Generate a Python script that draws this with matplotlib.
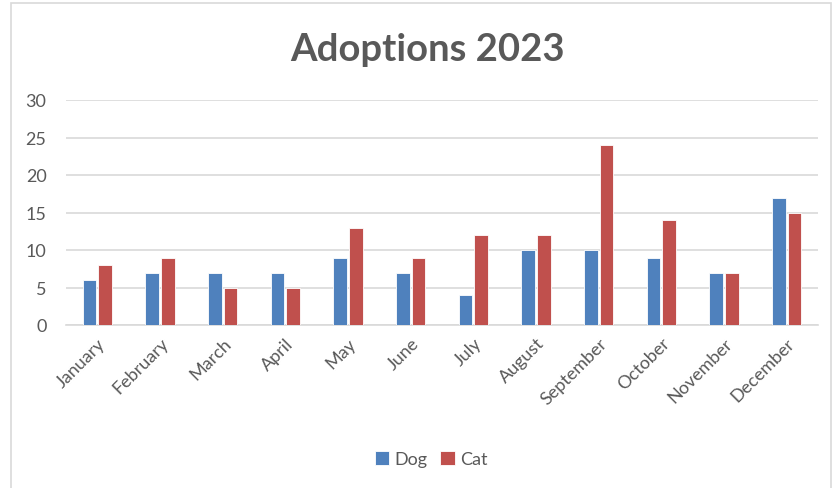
import matplotlib
matplotlib.use("Agg")
import matplotlib.pyplot as plt
import numpy as np
from matplotlib.patches import Rectangle

months = ["January", "February", "March", "April", "May", "June", "July",
          "August", "September", "October", "November", "December"]
dog = [6, 7, 7, 7, 9, 7, 4, 10, 10, 9, 7, 17]
cat = [8, 9, 5, 5, 13, 9, 12, 12, 24, 14, 7, 15]
yticks = [0, 5, 10, 15, 20, 25, 30]

plt.rcParams['font.family'] = ['Lato', 'DejaVu Sans']
text_color = "#595959"

fig = plt.figure(figsize=(8.35, 4.89), dpi=100)
fig.patches.append(Rectangle((11/835, -0.01), (831-11)/835, 1 - 4/489 + 0.01,
                             transform=fig.transFigure, fill=False,
                             edgecolor="#D9D9D9", linewidth=1.2))
ax = fig.add_axes([66/835, 1 - 326/489, (818-66)/835, (326-101)/489])

x = np.arange(len(months))
w = 0.22
ax.bar(x - 0.125, dog, width=w, color="#4F81BD", edgecolor="white", linewidth=0.6, label="Dog", zorder=3)
ax.bar(x + 0.125, cat, width=w, color="#C0504D", edgecolor="white", linewidth=0.6, label="Cat", zorder=3)

ax.set_xlim(-0.5, len(months) - 0.5)
ax.set_ylim(0, 30)
ax.set_yticks(yticks)
ax.set_yticklabels([str(t) for t in yticks], fontsize=13, color=text_color)
ax.set_xticks(x)
ax.set_xticklabels(months, rotation=45, ha="right", rotation_mode="anchor",
                   fontsize=13, color=text_color)
ax.tick_params(axis="both", length=0, pad=7)
ax.tick_params(axis="y", pad=14)
ax.grid(axis="y", color="#D9D9D9", linewidth=1.2, zorder=0)
for s in ["top", "right", "left"]:
    ax.spines[s].set_visible(False)
ax.spines["bottom"].set_color("#D9D9D9")
ax.spines["bottom"].set_linewidth(1.2)

fig.text(427/835, 1 - 50/489, "Adoptions 2023", ha="center", va="center",
         fontsize=27.5, fontweight="bold", color=text_color)

fig.legend(loc="center", bbox_to_anchor=(431/835, 1 - 460/489), ncol=2, frameon=False,
           fontsize=13, labelcolor=text_color, handlelength=0.8, handleheight=0.8,
           handletextpad=0.3, columnspacing=0.7)

fig.savefig("out.png", dpi=100)
